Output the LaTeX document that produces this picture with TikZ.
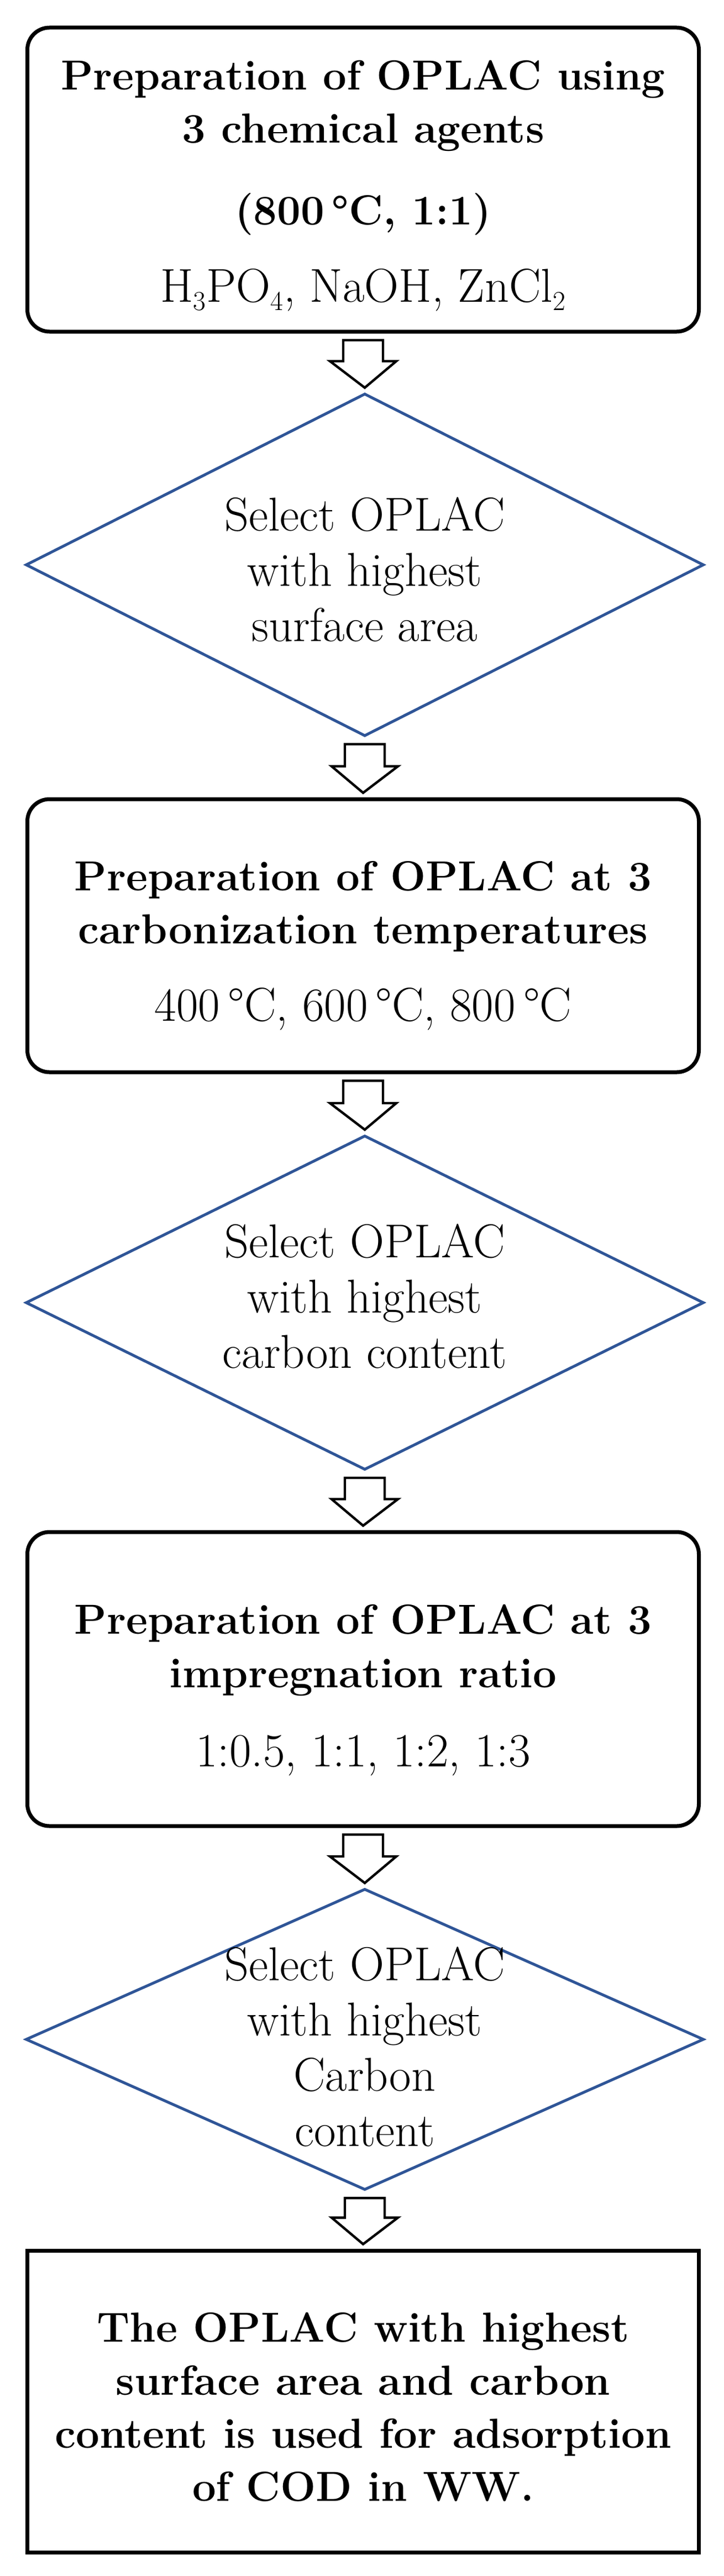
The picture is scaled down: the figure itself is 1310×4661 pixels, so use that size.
\documentclass[tikz,border=0pt]{standalone}
\usetikzlibrary{shapes.geometric}
\definecolor{dblue}{HTML}{2F5597}
\begin{document}
\begin{tikzpicture}[x=0.5pt,y=-0.5pt,
  rbox/.style={draw=black,line width=3.5pt,rounded corners=20pt,minimum width=607.5pt,inner sep=0pt},
  sbox/.style={draw=black,line width=3.5pt,minimum width=607.5pt,inner sep=0pt},
  dmd/.style={diamond,draw=dblue,line width=2.5pt,minimum width=613.5pt,inner sep=0pt},
  txt/.style={align=center,font=\fontsize{43}{50}\selectfont,inner sep=0pt},
  btxt/.style={align=center,inner sep=0pt,font=\fontsize{38}{48}\selectfont\bfseries},
  harrowline/.style={draw=black,line width=2.2pt,line join=miter}]
\useasboundingbox (0,0) rectangle (1310,4661);
% boxes
\node[rbox,minimum height=275pt] (b1) at (657,325) {};
\node[dmd,minimum height=310pt] (d1) at (660,1022) {};
\node[rbox,minimum height=247pt] (b2) at (657,1693) {};
\node[dmd,minimum height=302.5pt] (d2) at (660,2357) {};
\node[rbox,minimum height=266pt] (b3) at (657,3038) {};
\node[dmd,minimum height=272.5pt] (d3) at (660,3690) {};
\node[sbox,minimum height=273pt] (b4) at (657,4345) {};
% texts
\node[btxt] (t1a) at (657,192) {Preparation of OPLAC using\\3 chemical agents};
\node[btxt] (t1b) at (657,388) {(800\,°C, 1:1)};
\node[txt] (t1c) at (657,525) {H$_3$PO$_4$, NaOH, ZnCl$_2$};
\node[txt] (td1) at (660,1030) {Select OPLAC\\with highest\\surface area};
\node[btxt] (t2a) at (657,1640) {Preparation of OPLAC at 3\\carbonization temperatures};
\node[txt] (t2b) at (657,1826) {400\,°C, 600\,°C, 800\,°C};
\node[txt] (td2) at (660,2345) {Select OPLAC\\with highest\\carbon content};
\node[btxt] (t3a) at (657,2986) {Preparation of OPLAC at 3\\impregnation ratio};
\node[txt] (t3b) at (657,3176) {1:0.5, 1:1, 1:2, 1:3};
\node[txt] (td3) at (660,3703) {Select OPLAC\\with highest\\Carbon\\content};
\node[btxt] (t4) at (657,4355) {The OPLAC with highest\\surface area and carbon\\content is used for adsorption\\of COD in WW.};
% hollow arrows from each shape to the next
\foreach \a/\b in {b1/d1,d1/b2,b2/d2,d2/b3,b3/d3,d3/b4}{
  \path (\a.south) ++(0,12) coordinate (s) (\b.north) ++(0,-8) coordinate (e)
        (s |- e) ++(0,-48) coordinate (hb);
  \draw[harrowline] ([xshift=-18pt]s) -- ([xshift=18pt]s) -- ([xshift=18pt]hb)
     -- ([xshift=30pt]hb) -- (e) -- ([xshift=-30pt]hb)
     -- ([xshift=-18pt]hb) -- cycle;
}
\end{tikzpicture}
\end{document}
